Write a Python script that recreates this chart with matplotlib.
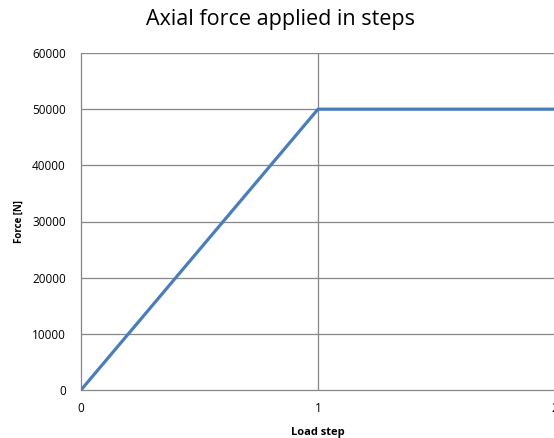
import matplotlib.pyplot as plt

plt.rcParams['font.family'] = ['Open Sans', 'DejaVu Sans']

# load steps and the axial force applied at each one
load_step = [0, 1, 2]
force = [0, 50000, 50000]

y_ticks = [0, 10000, 20000, 30000, 40000, 50000, 60000]
x_ticks = [0, 1, 2]

fig = plt.figure(figsize=(5.54, 4.38), dpi=100)
ax = fig.add_axes([81 / 554, 48 / 438, 474 / 554, 337 / 438])

grid_col = "#878787"
for y in y_ticks[1:]:
    ax.axhline(y, color=grid_col, lw=0.9, zorder=1)
ax.axvline(1, color=grid_col, lw=0.9, zorder=1)

ax.plot(load_step, force, color="#4A7EBB", lw=2.3, zorder=3, solid_capstyle="butt")

ax.set_xlim(0, 2)
ax.set_ylim(0, 60000)
ax.set_xticks(x_ticks)
ax.set_yticks(y_ticks)
ax.tick_params(length=0, labelsize=8.5, pad=11)
ax.tick_params(axis="x", pad=9)

for side in ["top", "right"]:
    ax.spines[side].set_visible(False)
for side in ["left", "bottom"]:
    ax.spines[side].set_color(grid_col)
    ax.spines[side].set_linewidth(0.9)

ax.set_xlabel("Load step", fontsize=8, fontweight="bold", labelpad=8)
ax.set_ylabel("Force [N]", fontsize=7, fontweight="bold", labelpad=5)

fig.text(280 / 554, 1 - 20 / 438, "Axial force applied in steps",
         ha="center", va="center", fontsize=15.5)

fig.savefig("out.png", dpi=100)
